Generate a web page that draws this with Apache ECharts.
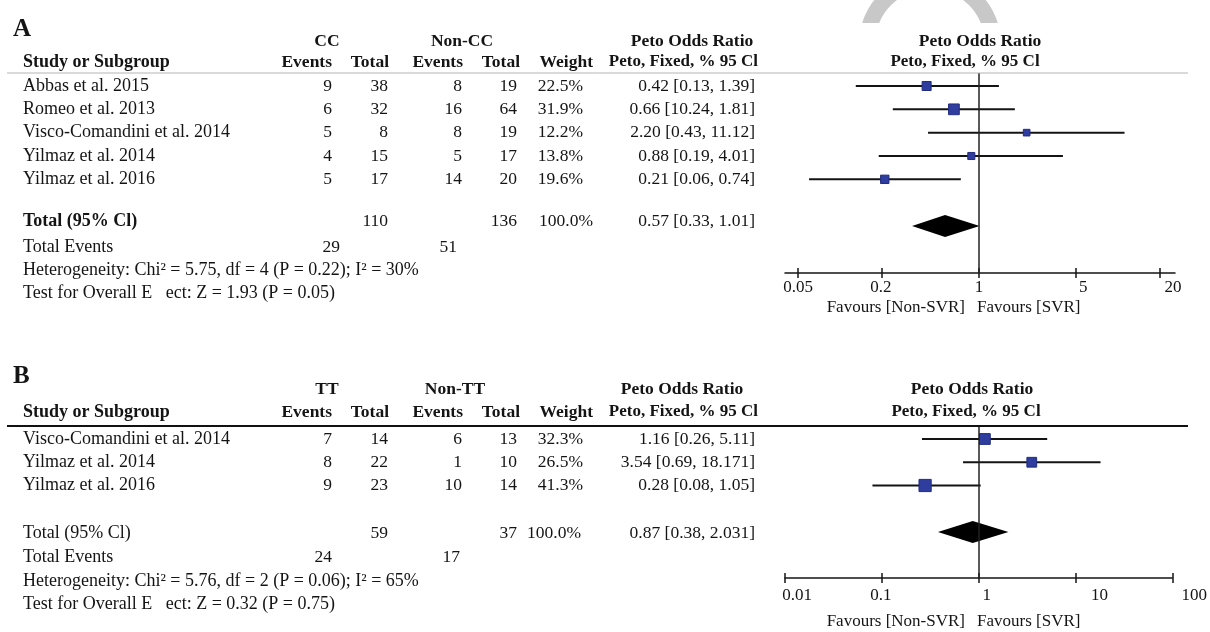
<!DOCTYPE html>
<html>
<head>
<meta charset="utf-8">
<script src="https://cdn.jsdelivr.net/npm/echarts@6/dist/echarts.min.js"></script>
<style>
html,body{margin:0;padding:0;background:#fff;}
#main{width:1210px;height:632px;}
</style>
</head>
<body>
<div id="main"></div>
<script>
// panel A : CC vs Non-CC
var studiesA = ['Abbas et al. 2015', 'Romeo et al. 2013', 'Visco-Comandini et al. 2014', 'Yilmaz et al. 2014', 'Yilmaz et al. 2016'];
var ccEvents = [9, 6, 5, 4, 5];
var ccTotal = [38, 32, 8, 15, 17];
var nonCcEvents = [8, 16, 8, 5, 14];
var nonCcTotal = [19, 64, 19, 17, 20];
var weightA = [22.5, 31.9, 12.2, 13.8, 19.6];
var orA = [0.42, 0.66, 2.20, 0.88, 0.21];
var loA = [0.13, 0.24, 0.43, 0.19, 0.06];
var hiA = [1.39, 1.81, 11.12, 4.01, 0.74];
var orTextA = ['0.42 [0.13, 1.39]', '0.66 [10.24, 1.81]', '2.20 [0.43, 11.12]', '0.88 [0.19, 4.01]', '0.21 [0.06, 0.74]'];
var totalA = [0.57, 0.33, 1.01];          // or, lo, hi
var totalTextA = ['110', '136', '100.0%', '0.57 [0.33, 1.01]'];
var totalEventsA = ['29', '51'];
var hetA = 'Heterogeneity: Chi² = 5.75, df = 4 (P = 0.22); I² = 30%';
var testA = 'Test for Overall E   ect: Z = 1.93 (P = 0.05)';
var ticksA = ['0.05', '0.2', '1', '5', '20'];

// panel B : TT vs Non-TT
var studiesB = ['Visco-Comandini et al. 2014', 'Yilmaz et al. 2014', 'Yilmaz et al. 2016'];
var ttEvents = [7, 8, 9];
var ttTotal = [14, 22, 23];
var nonTtEvents = [6, 1, 10];
var nonTtTotal = [13, 10, 14];
var weightB = [32.3, 26.5, 41.3];
var orB = [1.16, 3.54, 0.28];
var loB = [0.26, 0.69, 0.08];
var hiB = [5.11, 18.171, 1.05];
var orTextB = ['1.16 [0.26, 5.11]', '3.54 [0.69, 18.171]', '0.28 [0.08, 1.05]'];
var totalB = [0.87, 0.38, 2.031];
var totalTextB = ['59', '37', '100.0%', '0.87 [0.38, 2.031]'];
var totalEventsB = ['24', '17'];
var hetB = 'Heterogeneity: Chi² = 5.76, df = 2 (P = 0.06); I² = 65%';
var testB = 'Test for Overall E   ect: Z = 0.32 (P = 0.75)';
var ticksB = ['0.01', '0.1', '1', '10', '100'];

var FONT = '"Liberation Serif", "DejaVu Serif", serif';
var INK = '#141414';

function lg(v) { return Math.log(v) / Math.LN10; }

// labels in the picture sit a little right of their ticks on the big side
function xAxes(gi, ticks, shifts, min, max, margin) {
    var vals = ticks.map(function (t) { return lg(+t); });
    var rich = {};
    shifts.forEach(function (d, i) {
        rich['t' + i] = {
            fontFamily: FONT, fontSize: 17, color: INK,
            padding: d >= 0 ? [0, 0, 0, 2 * d] : [0, -2 * d, 0, 0]
        };
    });
    return [{
        type: 'value', gridIndex: gi, min: min, max: max, position: 'bottom',
        axisLine: {show: true, onZero: false, lineStyle: {color: INK, width: 1.5}},
        axisTick: {show: true, customValues: vals, length: 5, lineStyle: {color: INK, width: 1.5}},
        axisLabel: {
            show: true, customValues: vals, margin: margin, color: INK,
            fontFamily: FONT, fontSize: 17, rich: rich,
            formatter: function (v) {
                for (var i = 0; i < vals.length; i++) {
                    if (Math.abs(vals[i] - v) < 1e-6) return '{t' + i + '|' + ticks[i] + '}';
                }
                return '';
            }
        },
        splitLine: {show: false}
    }, {
        // second axis only for the ticks that stick up above the line
        type: 'value', gridIndex: gi, min: min, max: max, position: 'bottom',
        axisLine: {show: false, onZero: false},
        axisTick: {show: true, inside: true, customValues: vals, length: 5, lineStyle: {color: INK, width: 1.5}},
        axisLabel: {show: false},
        splitLine: {show: false}
    }];
}

function renderStudy(params, api) {
    var y = api.value(1);
    var c = api.coord([api.value(0), y]);
    var l = api.coord([api.value(2), y]);
    var r = api.coord([api.value(3), y]);
    var s = 1.9 * Math.sqrt(api.value(4));
    return {
        type: 'group',
        children: [
            {type: 'line', shape: {x1: l[0], y1: l[1], x2: r[0], y2: r[1]}, style: {stroke: INK, lineWidth: 2}},
            {type: 'rect', shape: {x: c[0] - s / 2, y: c[1] - s / 2, width: s, height: s},
                style: {fill: '#2e3d9e', stroke: '#222d80', lineWidth: 1}}
        ]
    };
}

function renderDiamond(params, api) {
    var y = api.value(1);
    var p = api.coord([api.value(0), y]);
    var l = api.coord([api.value(2), y]);
    var r = api.coord([api.value(3), y]);
    var h = 11;
    return {
        type: 'polygon',
        shape: {points: [[l[0], l[1]], [p[0], p[1] - h], [r[0], r[1]], [p[0], p[1] + h]]},
        style: {fill: '#000'}
    };
}

function studySeries(xi, yi, ors, los, his, ws) {
    return {
        type: 'custom', xAxisIndex: xi, yAxisIndex: yi, z: 3, silent: true,
        data: ors.map(function (o, i) { return [lg(o), i, lg(los[i]), lg(his[i]), ws[i]]; }),
        encode: {x: [0, 2, 3], y: 1},
        renderItem: renderStudy,
        markLine: {
            silent: true, symbol: 'none', animation: false,
            label: {show: false},
            lineStyle: {color: '#222', width: 1.5, type: 'solid'},
            data: [{xAxis: 0}]
        }
    };
}

function diamondSeries(xi, yi, tot, row) {
    return {
        type: 'custom', xAxisIndex: xi, yAxisIndex: yi, z: 3, silent: true,
        data: [[lg(tot[0]), row, lg(tot[1]), lg(tot[2])]],
        encode: {x: [0, 2, 3], y: 1},
        renderItem: renderDiamond
    };
}

var chart = echarts.init(document.getElementById('main'));
var option = {
    animation: false,
    backgroundColor: '#fff',
    grid: [
        {left: 785, top: 73, width: 390, height: 200},
        {left: 785, top: 426, width: 388, height: 152}
    ],
    xAxis: xAxes(0, ticksA, [0, -1, 0, 7, 13], -1.395, 1.409, 6)
        .concat(xAxes(1, ticksB, [12, -1, 8, 24, 22], -2, 2, 9)),
    yAxis: [
        {type: 'value', gridIndex: 0, min: -0.557, max: 8.015, inverse: true, show: false, axisLine: {onZero: false}},
        {type: 'value', gridIndex: 1, min: -0.559, max: 5.978, inverse: true, show: false, axisLine: {onZero: false}}
    ],
    series: [
        studySeries(0, 0, orA, loA, hiA, weightA),
        diamondSeries(0, 0, totalA, 6),
        studySeries(2, 1, orB, loB, hiB, weightB),
        diamondSeries(2, 1, totalB, 4)
    ]
};
chart.setOption(option);

// table text, rows placed with the same y scale as the forest plot
function rowY(gi, idx) { return chart.convertToPixel({gridIndex: gi}, [0, idx])[1]; }

function txt(x, y, s, align, bold, size) {
    return {
        type: 'text', x: x, y: y, z: 100, silent: true,
        style: {
            text: s, fill: INK, fontFamily: FONT, fontSize: size || 17.5,
            fontWeight: bold ? 'bold' : 'normal',
            align: align || 'left', verticalAlign: 'middle'
        }
    };
}

var cols = {name: 23, ev: 332, tot: 388, nev: 462, ntot: 517, w: 583, or: 755};
var WORD = 18;
var els = [];

// faint watermark arc at the top
els.push({type: 'ring', z: 0, silent: true, shape: {cx: 930, cy: 44, r: 71, r0: 55}, style: {fill: '#c8c8c8'}});
els.push({type: 'rect', z: 1, silent: true, shape: {x: 850, y: 23, width: 165, height: 100}, style: {fill: '#fff'}});

function panel(gi, o) {
    els.push(txt(13, o.letterY, o.letter, 'left', true, 25));
    els.push(txt(327, o.h1, o.g1, 'center', true));
    els.push(txt(o.g2x, o.h1, o.g2, 'center', true));
    els.push(txt(o.porX, o.h1, 'Peto Odds Ratio', 'center', true));
    els.push(txt(o.plotX1, o.h1, 'Peto Odds Ratio', 'center', true));
    els.push(txt(cols.name, o.h2, 'Study or Subgroup', 'left', true, WORD));
    els.push(txt(332, o.h2, 'Events', 'right', true));
    els.push(txt(389, o.h2, 'Total', 'right', true));
    els.push(txt(463, o.h2, 'Events', 'right', true));
    els.push(txt(520, o.h2, 'Total', 'right', true));
    els.push(txt(593, o.h2, 'Weight', 'right', true));
    els.push(txt(758, o.h2, 'Peto, Fixed, % 95 Cl', 'right', true, 17));
    els.push(txt(o.plotX2, o.h2, 'Peto, Fixed, % 95 Cl', 'center', true, 17));
    els.push({type: 'line', z: 100, silent: true, shape: {x1: 7, y1: o.lineY, x2: 1188, y2: o.lineY},
        style: {stroke: o.lineColor, lineWidth: o.lineW}});

    for (var i = 0; i < o.names.length; i++) {
        var y = rowY(gi, i);
        els.push(txt(cols.name, y, o.names[i], 'left', false, WORD));
        els.push(txt(cols.ev, y, String(o.ev[i]), 'right'));
        els.push(txt(cols.tot, y, String(o.tot[i]), 'right'));
        els.push(txt(cols.nev, y, String(o.nev[i]), 'right'));
        els.push(txt(cols.ntot, y, String(o.ntot[i]), 'right'));
        els.push(txt(cols.w, y, o.w[i].toFixed(1) + '%', 'right'));
        els.push(txt(cols.or, y, o.orText[i], 'right'));
    }
    var ty = rowY(gi, o.totRow);
    els.push(txt(cols.name, ty, 'Total (95% Cl)', 'left', o.totBold, WORD));
    els.push(txt(cols.tot, ty, o.totText[0], 'right'));
    els.push(txt(cols.ntot, ty, o.totText[1], 'right'));
    els.push(txt(o.totWX, ty, o.totText[2], 'right'));
    els.push(txt(cols.or, ty, o.totText[3], 'right'));
    var ey = rowY(gi, o.evRow);
    els.push(txt(cols.name, ey, 'Total Events', 'left', false, WORD));
    els.push(txt(o.evX[0], ey, o.totEv[0], 'right'));
    els.push(txt(o.evX[1], ey, o.totEv[1], 'right'));
    els.push(txt(cols.name, rowY(gi, o.evRow + 1), o.het, 'left', false, WORD));
    els.push(txt(cols.name, rowY(gi, o.evRow + 2), o.test, 'left', false, WORD));
    els.push(txt(965, o.favY, 'Favours [Non-SVR]', 'right', false, 17));
    els.push(txt(977, o.favY, 'Favours [SVR]', 'left', false, 17));
}

panel(0, {
    letter: 'A', letterY: 30, h1: 41, h2: 62, lineY: 73, lineColor: '#b4b4b4', lineW: 1,
    g1: 'CC', g2: 'Non-CC', g2x: 462, porX: 692, plotX1: 980, plotX2: 965,
    names: studiesA, ev: ccEvents, tot: ccTotal, nev: nonCcEvents, ntot: nonCcTotal, w: weightA, orText: orTextA,
    totRow: 5.8, totBold: true, totText: totalTextA, totWX: 593,
    evRow: 6.9, totEv: totalEventsA, evX: [340, 457],
    het: hetA, test: testA, favY: 308
});
panel(1, {
    letter: 'B', letterY: 377, h1: 389, h2: 412, lineY: 426, lineColor: '#111', lineW: 1.8,
    g1: 'TT', g2: 'Non-TT', g2x: 455, porX: 682, plotX1: 972, plotX2: 966,
    names: studiesB, ev: ttEvents, tot: ttTotal, nev: nonTtEvents, ntot: nonTtTotal, w: weightB, orText: orTextB,
    totRow: 4.05, totBold: false, totText: totalTextB, totWX: 581,
    evRow: 5.1, totEv: totalEventsB, evX: [332, 460],
    het: hetB, test: testB, favY: 622
});

chart.setOption({graphic: {elements: els}});
</script>
</body>
</html>
